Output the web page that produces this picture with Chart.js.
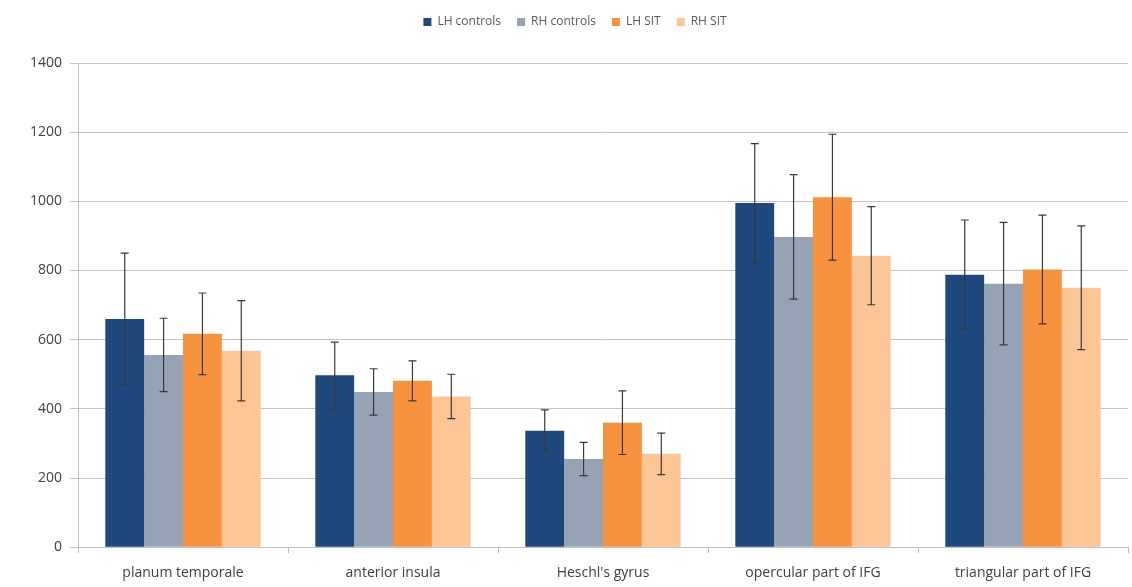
<!DOCTYPE html>
<html>
<head>
<meta charset="utf-8">
<script src="https://cdn.jsdelivr.net/npm/chart.js@4"></script>
<style>
  html, body { margin: 0; padding: 0; background: #fff; }
  #wrap { width: 1132px; height: 587px; }
</style>
</head>
<body>
<div id="wrap"><canvas id="chart" width="1132" height="587"></canvas></div>
<script>
// ===== DATA =====
const regions = ["planum temporale", "anterior insula", "Heschl's gyrus", "opercular part of IFG", "triangular part of IFG"];

const lhControls    = [660, 497, 337, 995, 788];
const rhControls    = [556, 449, 255, 897, 762];
const lhSit         = [617, 481, 360, 1012, 803];
const rhSit         = [568, 436, 270, 843, 750];

const lhControlsErr = [190, 96, 60, 172, 158];
const rhControlsErr = [106, 67, 48, 180, 177];
const lhSitErr      = [118, 58, 92, 182, 157];
const rhSitErr      = [145, 64, 60, 142, 179];

const yTicks = [0, 200, 400, 600, 800, 1000, 1200, 1400];

// ===== ERROR BARS =====
const errorBars = {
    id: "errorBars",
    afterDatasetsDraw(chart) {
        const ctx = chart.ctx;
        const y = chart.scales.y;
        ctx.save();
        ctx.strokeStyle = "#3a3a3a";
        ctx.lineWidth = 1.2;
        chart.data.datasets.forEach((ds, i) => {
            const meta = chart.getDatasetMeta(i);
            meta.data.forEach((bar, j) => {
                const v = ds.data[j];
                const e = ds.errors[j];
                const top = y.getPixelForValue(v + e);
                const bot = y.getPixelForValue(v - e);
                const x = bar.x;
                ctx.beginPath();
                ctx.moveTo(x, top); ctx.lineTo(x, bot);
                ctx.moveTo(x - 4, top); ctx.lineTo(x + 4, top);
                ctx.moveTo(x - 4, bot); ctx.lineTo(x + 4, bot);
                ctx.stroke();
            });
        });
        ctx.restore();
    }
};

// extra room under the legend
const legendGap = {
    id: "legendGap",
    beforeInit(chart) {
        const fit = chart.legend.fit;
        chart.legend.fit = function () {
            fit.bind(chart.legend)();
            this.height += 25;
        };
    }
};

// ===== CHART =====
const font = { family: "'Open Sans', sans-serif", size: 14 };

new Chart(document.getElementById("chart"), {
    type: "bar",
    data: {
        labels: regions,
        datasets: [
            { label: "LH controls", data: lhControls, errors: lhControlsErr, backgroundColor: "#1f487c" },
            { label: "RH controls", data: rhControls, errors: rhControlsErr, backgroundColor: "#95a3b5" },
            { label: "LH SIT", data: lhSit, errors: lhSitErr, backgroundColor: "#f7923f" },
            { label: "RH SIT", data: rhSit, errors: rhSitErr, backgroundColor: "#fbc596" }
        ]
    },
    options: {
        responsive: false,
        animation: false,
        layout: { padding: { left: 22, right: 4, top: 0, bottom: 2 } },
        datasets: { bar: { categoryPercentage: 0.74, barPercentage: 1.0 } },
        plugins: {
            legend: {
                position: "top",
                labels: {
                    boxWidth: 8, boxHeight: 8, padding: 16,
                    color: "#595959",
                    font: { family: "'Open Sans', sans-serif", size: 12 }
                }
            },
            tooltip: { enabled: false }
        },
        scales: {
            x: {
                afterFit: s => { s.height -= 7; },
                grid: { display: true, drawOnChartArea: false, tickLength: 6, color: "#bfbfbf" },
                border: { color: "#bfbfbf" },
                ticks: { color: "#404040", font: font, maxRotation: 0, padding: 11 }
            },
            y: {
                min: 0, max: 1400,
                afterBuildTicks: axis => { axis.ticks = yTicks.map(v => ({ value: v })); },
                grid: { color: "#c4c4c4", tickLength: 8 },
                border: { color: "#bfbfbf" },
                ticks: { color: "#404040", font: font, padding: 8, callback: v => String(v) }
            }
        }
    },
    plugins: [errorBars, legendGap]
});
</script>
</body>
</html>
